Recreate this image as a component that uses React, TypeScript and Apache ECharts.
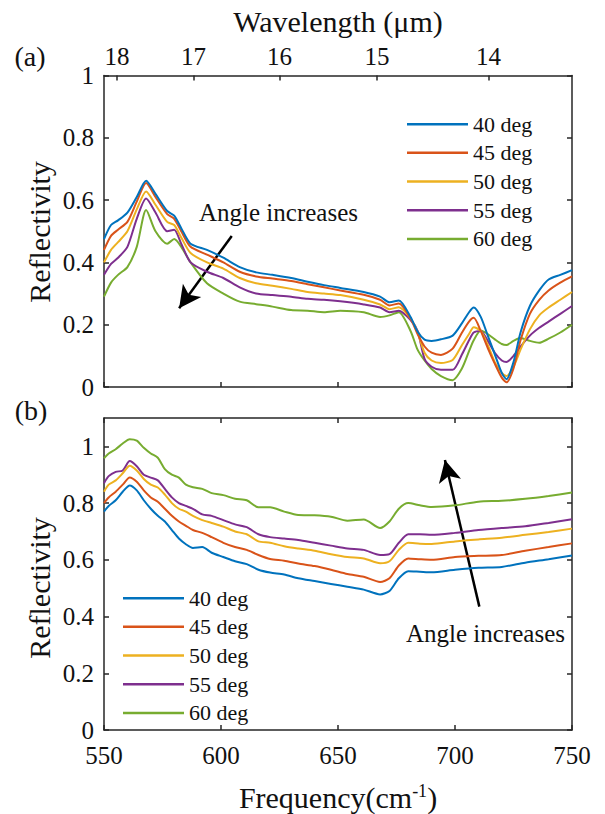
import React, { useEffect, useRef } from 'react';
import * as echarts from 'echarts';

const seriesNames = ['40 deg', '45 deg', '50 deg', '55 deg', '60 deg'];
const seriesColors = ['#0072BD', '#D95319', '#EDB120', '#7E2F8E', '#77AC30'];

// Panel (a) frequency samples (cm^-1)
const freqA = [550, 553, 556, 560, 564, 568, 572, 577, 580, 583, 587, 594, 601, 608, 615, 622, 630, 637, 644, 651, 661, 668, 672, 676, 681, 684, 687, 690, 694, 699, 703, 706, 708, 711, 714, 717, 720, 722, 725, 728, 732, 736, 740, 745, 750];
const reflA40 = [0.475, 0.52, 0.535, 0.56, 0.61, 0.662, 0.62, 0.565, 0.55, 0.51, 0.46, 0.44, 0.415, 0.385, 0.368, 0.36, 0.35, 0.338, 0.327, 0.318, 0.305, 0.29, 0.272, 0.278, 0.225, 0.178, 0.152, 0.148, 0.153, 0.165, 0.205, 0.24, 0.255, 0.225, 0.165, 0.105, 0.045, 0.025, 0.08, 0.175, 0.26, 0.31, 0.345, 0.36, 0.375];
const reflA45 = [0.44, 0.485, 0.505, 0.53, 0.595, 0.655, 0.61, 0.555, 0.54, 0.5, 0.45, 0.425, 0.4, 0.37, 0.355, 0.348, 0.34, 0.33, 0.32, 0.31, 0.296, 0.28, 0.262, 0.268, 0.22, 0.17, 0.13, 0.11, 0.103, 0.123, 0.175, 0.21, 0.222, 0.18, 0.125, 0.075, 0.03, 0.015, 0.06, 0.15, 0.235, 0.28, 0.31, 0.335, 0.355];
const reflA50 = [0.4, 0.44, 0.465, 0.5, 0.57, 0.628, 0.585, 0.53, 0.52, 0.48, 0.43, 0.4, 0.38, 0.35, 0.333, 0.325, 0.315, 0.305, 0.3, 0.295, 0.28, 0.265, 0.25, 0.256, 0.22, 0.175, 0.11, 0.085, 0.077, 0.087, 0.135, 0.17, 0.192, 0.18, 0.135, 0.08, 0.045, 0.035, 0.065, 0.12, 0.185, 0.23, 0.255, 0.28, 0.305];
const reflA55 = [0.36, 0.395, 0.415, 0.45, 0.54, 0.605, 0.56, 0.5, 0.505, 0.46, 0.4, 0.37, 0.35, 0.32, 0.3, 0.295, 0.29, 0.283, 0.28, 0.275, 0.265, 0.255, 0.24, 0.245, 0.215, 0.18, 0.09, 0.065, 0.055, 0.055, 0.105, 0.15, 0.175, 0.18, 0.148, 0.11, 0.085, 0.08, 0.1, 0.13, 0.165, 0.19, 0.21, 0.235, 0.26];
const reflA60 = [0.29, 0.335, 0.36, 0.385, 0.45, 0.568, 0.5, 0.46, 0.475, 0.45, 0.4, 0.333, 0.3, 0.274, 0.266, 0.258, 0.247, 0.245, 0.24, 0.245, 0.24, 0.225, 0.23, 0.24, 0.18, 0.12, 0.085, 0.058, 0.035, 0.022, 0.06, 0.115, 0.15, 0.181, 0.17, 0.153, 0.138, 0.135, 0.148, 0.157, 0.148, 0.142, 0.155, 0.175, 0.2];

// Panel (b) frequency samples (cm^-1)
const freqB = [550, 552, 555, 558, 561, 564, 567, 570, 573, 576, 579, 582, 585, 588, 592, 596, 601, 606, 611, 616, 621, 627, 633, 640, 647, 654, 661, 668, 672, 676, 680, 685, 690, 700, 710, 720, 730, 740, 750];
const reflB40 = [0.77, 0.79, 0.81, 0.84, 0.862, 0.845, 0.81, 0.78, 0.755, 0.735, 0.705, 0.675, 0.655, 0.642, 0.645, 0.625, 0.61, 0.595, 0.585, 0.565, 0.555, 0.548, 0.535, 0.525, 0.515, 0.505, 0.495, 0.478, 0.49, 0.535, 0.56, 0.558, 0.556, 0.565, 0.572, 0.575, 0.59, 0.602, 0.615];
const reflB45 = [0.8, 0.82, 0.84, 0.865, 0.89, 0.875, 0.845, 0.82, 0.805, 0.78, 0.755, 0.735, 0.72, 0.705, 0.695, 0.68, 0.66, 0.645, 0.635, 0.617, 0.603, 0.597, 0.587, 0.578, 0.565, 0.55, 0.54, 0.522, 0.535, 0.58, 0.605, 0.602, 0.6, 0.61, 0.614, 0.617, 0.632, 0.645, 0.658];
const reflB50 = [0.84, 0.865, 0.88, 0.905, 0.932, 0.915, 0.885, 0.865, 0.855, 0.83, 0.8, 0.78, 0.77, 0.755, 0.74, 0.73, 0.717, 0.7, 0.69, 0.665, 0.66, 0.648, 0.64, 0.632, 0.62, 0.61, 0.605, 0.588, 0.595, 0.635, 0.66, 0.657, 0.656, 0.665, 0.672, 0.678, 0.688, 0.698, 0.71];
const reflB55 = [0.87, 0.895, 0.91, 0.915, 0.948, 0.93, 0.9, 0.89, 0.88, 0.85, 0.82, 0.8, 0.79, 0.78, 0.76, 0.755, 0.74, 0.725, 0.715, 0.69, 0.68, 0.675, 0.67, 0.66, 0.65, 0.64, 0.635, 0.617, 0.62, 0.66, 0.69, 0.69, 0.688, 0.695, 0.705, 0.712, 0.718, 0.73, 0.743];
const reflB60 = [0.958, 0.975, 0.99, 1.01, 1.025, 1.02, 0.995, 0.975, 0.96, 0.92, 0.9, 0.89, 0.865, 0.856, 0.85, 0.835, 0.828, 0.815, 0.81, 0.785, 0.785, 0.77, 0.758, 0.757, 0.752, 0.738, 0.742, 0.712, 0.735, 0.78, 0.8, 0.792, 0.786, 0.792, 0.805, 0.808, 0.815, 0.825, 0.837];

// Ticks
const freqTicks = [550, 600, 650, 700, 750];
const wavelengthTicks = [18, 17, 16, 15, 14];
const reflTicks = [0, 0.2, 0.4, 0.6, 0.8, 1];

// Annotation arrows [freq, reflectivity] start -> tip
const arrowA = [[604.6, 0.485], [582.1, 0.253]];
const arrowB = [[710.4, 0.435], [695.7, 0.952]];

const FONT = '"Liberation Serif", "Times New Roman", Tinos, "Nimbus Roman", "DejaVu Serif", serif';
const INK = '#262626';
const TEXT = '#111';

export default function App() {
  const ref = useRef<HTMLDivElement>(null);
  useEffect(() => {
    if (!ref.current) return;
    const chart = echarts.init(ref.current, null, { renderer: 'svg' });
    const wlPositions = wavelengthTicks.map((w) => 10000 / w);
    const axisLine = { show: true, onZero: false, lineStyle: { color: INK, width: 1.5 } };
    const tickStyle = (values: number[]) => ({ show: true, inside: true, length: 5, customValues: values, lineStyle: { color: INK, width: 1.5 } });
    const labelStyle = { fontFamily: FONT, fontSize: 25, color: TEXT };
    const fmtRefl = (v: number) => String(parseFloat(v.toFixed(1)));

    const dataA = [reflA40, reflA45, reflA50, reflA55, reflA60];
    const dataB = [reflB40, reflB45, reflB50, reflB55, reflB60];
    const arrowLine = (pts: number[][]) => ({
      silent: true, symbol: ['none', 'arrow'], symbolSize: [17, 22],
      label: { show: false }, lineStyle: { color: '#000', width: 2.5, type: 'solid' },
      itemStyle: { color: '#000' },
      data: [[{ coord: pts[0] }, { coord: pts[1] }]],
    });

    const series: any[] = [];
    dataA.forEach((arr, i) => {
      series.push({
        name: seriesNames[i], type: 'line', xAxisIndex: 0, yAxisIndex: 0,
        data: freqA.map((f, j) => [f, arr[j]]), showSymbol: false, symbol: 'none', smooth: 0.25,
        lineStyle: { width: 2, color: seriesColors[i] }, itemStyle: { color: seriesColors[i] },
        z: 10 - i,
        markLine: i === 0 ? arrowLine(arrowA) : undefined,
      });
    });
    dataB.forEach((arr, i) => {
      series.push({
        name: seriesNames[i], type: 'line', xAxisIndex: 2, yAxisIndex: 2,
        data: freqB.map((f, j) => [f, arr[j]]), showSymbol: false, symbol: 'none', smooth: 0.25,
        lineStyle: { width: 2, color: seriesColors[i] }, itemStyle: { color: seriesColors[i] },
        z: 10 - i,
        markLine: i === 0 ? arrowLine(arrowB) : undefined,
      });
    });

    const legendCommon = {
      orient: 'vertical', icon: 'rect', itemWidth: 61, itemHeight: 2.5, itemGap: 6.4,
      textStyle: { fontFamily: FONT, fontSize: 22, color: TEXT, lineHeight: 22.3 },
      data: seriesNames, selectedMode: false,
    };

    chart.setOption({
      animation: false,
      backgroundColor: '#fff',
      grid: [
        { left: 104, top: 75.5, width: 468, height: 311.5 },
        { left: 104, top: 418, width: 468, height: 312 },
      ],
      xAxis: [
        { gridIndex: 0, type: 'value', position: 'bottom', min: 550, max: 750, interval: 50, axisLine, axisTick: tickStyle(freqTicks), axisLabel: { show: false }, splitLine: { show: false } },
        { gridIndex: 0, type: 'value', position: 'top', min: 550, max: 750, axisLine, axisTick: tickStyle(wlPositions),
          axisLabel: { ...labelStyle, margin: 7, customValues: wlPositions, formatter: (v: number) => String(Math.round(10000 / v)) }, splitLine: { show: false } },
        { gridIndex: 1, type: 'value', position: 'bottom', min: 550, max: 750, interval: 50, axisLine, axisTick: tickStyle(freqTicks),
          axisLabel: { ...labelStyle, margin: 13, customValues: freqTicks, showMinLabel: true, showMaxLabel: true }, splitLine: { show: false } },
        { gridIndex: 1, type: 'value', position: 'top', min: 550, max: 750, interval: 50, axisLine, axisTick: tickStyle(freqTicks), axisLabel: { show: false }, splitLine: { show: false } },
      ],
      yAxis: [
        { gridIndex: 0, type: 'value', position: 'left', min: 0, max: 1, interval: 0.2, axisLine, axisTick: tickStyle(reflTicks),
          axisLabel: { ...labelStyle, margin: 10, customValues: reflTicks, formatter: fmtRefl, showMinLabel: true, showMaxLabel: true }, splitLine: { show: false } },
        { gridIndex: 0, type: 'value', position: 'right', min: 0, max: 1, interval: 0.2, axisLine, axisTick: tickStyle(reflTicks), axisLabel: { show: false }, splitLine: { show: false } },
        { gridIndex: 1, type: 'value', position: 'left', min: 0, max: 1.1, axisLine, axisTick: tickStyle(reflTicks),
          axisLabel: { ...labelStyle, margin: 10, customValues: reflTicks, formatter: fmtRefl }, splitLine: { show: false } },
        { gridIndex: 1, type: 'value', position: 'right', min: 0, max: 1.1, axisLine, axisTick: tickStyle(reflTicks), axisLabel: { show: false }, splitLine: { show: false } },
      ],
      legend: [
        { ...legendCommon, left: 402, top: 108 },
        { ...legendCommon, left: 118, top: 582 },
      ],
      graphic: [
        { type: 'text', x: 338, y: 21, style: { text: 'Wavelength (μm)', font: `30px ${FONT}`, fill: TEXT, align: 'center', verticalAlign: 'middle' } },
        { type: 'text', x: 30, y: 56, style: { text: '(a)', font: `28px ${FONT}`, fill: TEXT, align: 'center', verticalAlign: 'middle' } },
        { type: 'text', x: 31, y: 410, style: { text: '(b)', font: `28px ${FONT}`, fill: TEXT, align: 'center', verticalAlign: 'middle' } },
        { type: 'text', x: 39, y: 232, rotation: Math.PI / 2, style: { text: 'Reflectivity', font: `30px ${FONT}`, fill: TEXT, align: 'center', verticalAlign: 'middle' } },
        { type: 'text', x: 39, y: 588, rotation: Math.PI / 2, style: { text: 'Reflectivity', font: `30px ${FONT}`, fill: TEXT, align: 'center', verticalAlign: 'middle' } },
        { type: 'text', x: 338, y: 797, style: {
          text: 'Frequency(cm{sup|-1})', font: `30px ${FONT}`, fill: TEXT, align: 'center', verticalAlign: 'middle',
          rich: { sup: { fontFamily: FONT, fontSize: 18, fill: TEXT, verticalAlign: 'top', padding: [0, 0, 12, 0] } } } },
        { type: 'text', x: 199, y: 212, style: { text: 'Angle increases', font: `25px ${FONT}`, fill: TEXT, align: 'left', verticalAlign: 'middle' } },
        { type: 'text', x: 406, y: 633, style: { text: 'Angle increases', font: `25px ${FONT}`, fill: TEXT, align: 'left', verticalAlign: 'middle' } },
      ],
      series,
    });
    return () => chart.dispose();
  }, []);
  return <div ref={ref} style={{ position: 'fixed', left: 0, top: 0, width: 605, height: 814 }} />;
}
